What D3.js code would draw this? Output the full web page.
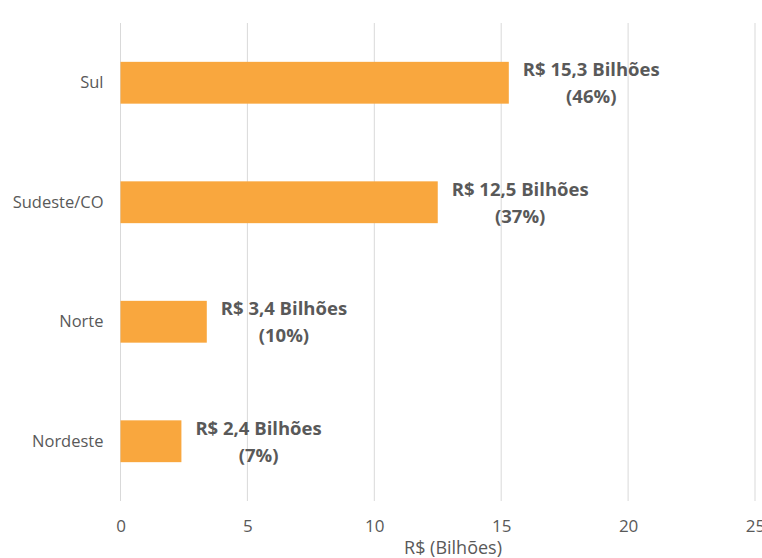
<!DOCTYPE html>
<html>
<head>
<meta charset="utf-8">
<script src="https://cdn.jsdelivr.net/npm/d3@7"></script>
<style>
  body { margin: 0; background: #fff; }
  text { font-family: "Open Sans", sans-serif; fill: #595959; }
</style>
</head>
<body>
<svg id="chart" width="762" height="558"></svg>
<script>
// data
const regions = ["Sul", "Sudeste/CO", "Norte", "Nordeste"]
const values = [15.3, 12.5, 3.4, 2.4]
const valueLabels = ["R$ 15,3 Bilhões", "R$ 12,5 Bilhões", "R$ 3,4 Bilhões", "R$ 2,4 Bilhões"]
const shares = ["(46%)", "(37%)", "(10%)", "(7%)"]
const xTicks = [0, 5, 10, 15, 20, 25]

const svg = d3.select("#chart")
const margin = { top: 23, right: 7, bottom: 57, left: 120.5 }
const width = 762 - margin.left - margin.right
const height = 558 - margin.top - margin.bottom

const x = d3.scaleLinear().domain([0, 25]).range([0, width])
const y = d3.scaleBand().domain(regions).range([0, height]).paddingInner(0.65).paddingOuter(0.325)

const g = svg.append("g").attr("transform", `translate(${margin.left},${margin.top})`)

// grid lines
g.selectAll("line.grid")
    .data(xTicks)
    .enter()
    .append("line")
    .attr("class", "grid")
    .attr("x1", d => x(d))
    .attr("x2", d => x(d))
    .attr("y1", 0)
    .attr("y2", height)
    .attr("stroke", "#d9d9d9")
    .attr("stroke-width", 1)

// x tick labels
g.append("g")
    .attr("transform", `translate(0,${height})`)
    .call(d3.axisBottom(x).tickValues(xTicks).tickSize(0).tickPadding(19))
    .call(a => a.select(".domain").remove())
    .selectAll("text")
    .style("font-size", "17px")
    .style("font-family", "Open Sans, sans-serif")
    .style("fill", "#595959")

// y category labels
g.append("g")
    .call(d3.axisLeft(y).tickSize(0).tickPadding(17))
    .call(a => a.select(".domain").remove())
    .selectAll("text")
    .style("font-size", "16.5px")
    .style("font-family", "Open Sans, sans-serif")
    .style("fill", "#595959")

// bars
g.selectAll("rect.bar")
    .data(regions)
    .enter()
    .append("rect")
    .attr("class", "bar")
    .attr("x", 0)
    .attr("y", d => y(d))
    .attr("width", (d, i) => x(values[i]))
    .attr("height", y.bandwidth())
    .attr("fill", "#f9a73e")

// value labels, two lines
g.selectAll("g.lbl")
    .data(regions)
    .enter()
    .append("g")
    .attr("class", "lbl")
    .each(function (d, i) {
        const lg = d3.select(this)
        const cy = y(d) + y.bandwidth() / 2
        const t1 = lg.append("text")
            .attr("x", x(values[i]) + 14)
            .attr("y", cy - 13)
            .attr("dy", "0.35em")
            .style("font-size", "18.5px")
            .attr("font-weight", "bold")
            .text(valueLabels[i])
        const w = t1.node().getBBox().width
        lg.append("text")
            .attr("x", x(values[i]) + 14 + w / 2)
            .attr("y", cy + 14)
            .attr("dy", "0.35em")
            .attr("text-anchor", "middle")
            .style("font-size", "18.5px")
            .attr("font-weight", "bold")
            .text(shares[i])
    })

// axis title
svg.append("text")
    .attr("x", 453)
    .attr("y", 548)
    .attr("dy", "0.35em")
    .attr("text-anchor", "middle")
    .style("font-size", "18px")
    .text("R$ (Bilhões)")
</script>
</body>
</html>
